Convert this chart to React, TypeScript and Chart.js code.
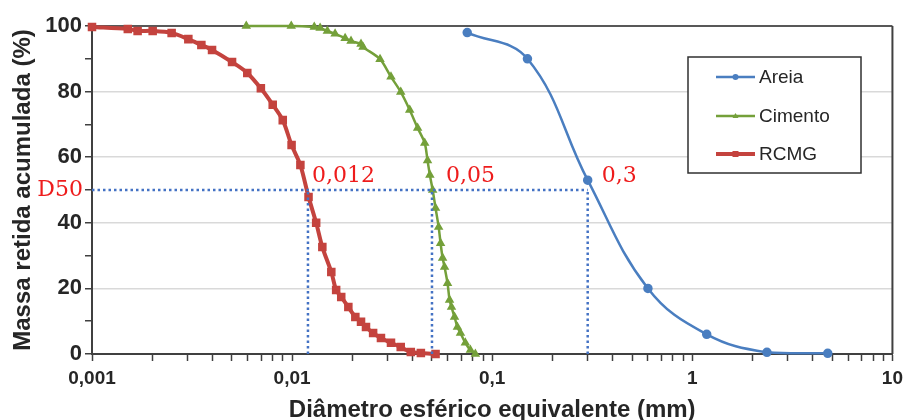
import React, { useEffect, useRef } from "react";
import { Chart, registerables } from "chart.js";

Chart.register(...registerables);

// ---- data ----
const seriesNames = ["Areia", "Cimento", "RCMG"];

const areiaD = [0.075, 0.15, 0.3, 0.6, 1.18, 2.36, 4.75];
const areiaPct = [98, 90, 53, 20, 6, 0.5, 0.2];

const cimentoD = [
  0.0059, 0.0099, 0.0129, 0.0138, 0.015, 0.0164, 0.0184, 0.0197, 0.0221, 0.0226,
  0.0275, 0.0312, 0.0349, 0.0387, 0.0424, 0.046, 0.0475, 0.0488, 0.0504, 0.0521,
  0.054, 0.0552, 0.0565, 0.0578, 0.0598, 0.0612, 0.0626, 0.0648, 0.067, 0.0694,
  0.0734, 0.0778, 0.0824,
];
const cimentoPct = [
  100, 100, 99.7, 99.4, 98.5, 97.6, 96.3, 95.4, 94.5, 93.6,
  89.9, 84.5, 79.9, 74.4, 68.9, 64.3, 59, 54.6, 50, 44.5,
  38.7, 33.8, 29.3, 26.5, 21.6, 16.5, 14.3, 11.3, 8.2, 6.4,
  3.4, 1.2, 0,
];

const rcmgD = [
  0.001, 0.00151, 0.00169, 0.00201, 0.0025, 0.00303, 0.00352, 0.00398, 0.00501, 0.00597,
  0.00698, 0.008, 0.00898, 0.00994, 0.011, 0.01208, 0.01319, 0.01416, 0.0157, 0.0166,
  0.0176, 0.0191, 0.0207, 0.0221, 0.0234, 0.0254, 0.0278, 0.0312, 0.0349, 0.0392,
  0.044, 0.0521,
];
const rcmgPct = [
  99.7, 99.1, 98.5, 98.5, 97.9, 96, 94.2, 92.7, 89, 85.7,
  81, 76, 71.3, 63.7, 57.6, 47.9, 40, 32.6, 25, 19.5,
  17.4, 14.3, 11.3, 9.8, 8.2, 6.4, 4.9, 3.4, 2.1, 0.6,
  0.3, 0,
];

const d50Level = 50;
const d50Values = [0.012, 0.05, 0.3];
const d50Labels = ["0,012", "0,05", "0,3"];
const d50Name = "D50";

const xDecades = [0.001, 0.01, 0.1, 1, 10];
const yLabelledTicks = [0, 20, 40, 60, 80, 100];

// ---- styles ----
const BLUE = "#4a7ec0";
const GREEN = "#74a03a";
const RED = "#c4433e";
const DOT_BLUE = "#4472c4";
const AXIS = "#404040";
const TEXT = "#262626";
const SANS = "'Liberation Sans', Arial, sans-serif";
const SERIF = "'DejaVu Serif', 'Liberation Serif', serif";
const labelOffsets = [4, 14, 14];

const zip = (xs: number[], ys: number[]) => xs.map((x, i) => ({ x, y: ys[i] }));

export default function App() {
  const ref = useRef<HTMLCanvasElement | null>(null);

  useEffect(() => {
    const canvas = ref.current;
    if (!canvas) return;

    const guideSets = [
      {
        label: "_d50h",
        data: [
          { x: xDecades[0], y: d50Level },
          { x: Math.max(...d50Values), y: d50Level },
        ],
      },
      ...d50Values.map((v) => ({
        label: "_d50v",
        data: [
          { x: v, y: 0 },
          { x: v, y: d50Level },
        ],
      })),
    ].map((d) => ({
      ...d,
      borderColor: DOT_BLUE,
      borderWidth: 2.5,
      borderDash: [2.5, 3],
      pointRadius: 0,
      tension: 0,
      fill: false,
    }));

    const series = [
      {
        label: seriesNames[0],
        data: zip(areiaD, areiaPct),
        borderColor: BLUE,
        backgroundColor: BLUE,
        borderWidth: 2.5,
        pointStyle: "circle",
        pointRadius: 3.5,
        tension: 0.4,
      },
      {
        label: seriesNames[1],
        data: zip(cimentoD, cimentoPct),
        borderColor: GREEN,
        backgroundColor: GREEN,
        borderWidth: 2.5,
        pointStyle: "triangle",
        pointRadius: 3,
        tension: 0.3,
      },
      {
        label: seriesNames[2],
        data: zip(rcmgD, rcmgPct),
        borderColor: RED,
        backgroundColor: RED,
        borderWidth: 4,
        pointStyle: "rect",
        pointRadius: 3.2,
        tension: 0.3,
      },
    ].map((d) => ({ ...d, fill: false, clip: false as const }));

    const frame = {
      id: "frame",
      beforeDatasetsDraw(chart: any) {
        const { ctx, chartArea: a } = chart;
        ctx.save();
        ctx.strokeStyle = "#202020";
        ctx.lineWidth = 1.5;
        ctx.beginPath();
        ctx.moveTo(a.left, a.top);
        ctx.lineTo(a.right, a.top);
        ctx.stroke();
        ctx.strokeStyle = AXIS;
        ctx.lineWidth = 2;
        ctx.beginPath();
        ctx.moveTo(a.right, a.top);
        ctx.lineTo(a.right, a.bottom);
        ctx.stroke();
        ctx.restore();
      },
      afterDraw(chart: any) {
        const { ctx } = chart;
        const xs = chart.scales.x;
        const ys = chart.scales.y;
        const py = ys.getPixelForValue(d50Level);
        ctx.save();
        // D50 labels
        ctx.fillStyle = "#ee1c1c";
        ctx.font = `22px ${SERIF}`;
        ctx.textBaseline = "alphabetic";
        ctx.textAlign = "left";
        d50Values.forEach((v, i) => {
          const px = xs.getPixelForValue(v);
          ctx.fillText(d50Labels[i], px + labelOffsets[i], py - 8);
        });
        ctx.textAlign = "right";
        ctx.textBaseline = "middle";
        ctx.fillText(d50Name, chart.chartArea.left - 9, py);

        // legend
        const bx = 688, by = 57, bw = 173, bh = 116;
        ctx.fillStyle = "#ffffff";
        ctx.fillRect(bx, by, bw, bh);
        ctx.strokeStyle = "#303030";
        ctx.lineWidth = 1.5;
        ctx.strokeRect(bx, by, bw, bh);
        const rows = [77, 116, 154];
        series.forEach((s, i) => {
          const y = rows[i];
          ctx.strokeStyle = s.borderColor;
          ctx.lineWidth = s.borderWidth;
          ctx.beginPath();
          ctx.moveTo(716, y);
          ctx.lineTo(755, y);
          ctx.stroke();
          ctx.fillStyle = s.backgroundColor;
          ctx.beginPath();
          if (s.pointStyle === "circle") {
            ctx.arc(735.5, y, 3, 0, Math.PI * 2);
          } else if (s.pointStyle === "triangle") {
            ctx.moveTo(735.5, y - 3);
            ctx.lineTo(738.5, y + 2);
            ctx.lineTo(732.5, y + 2);
            ctx.closePath();
          } else {
            ctx.rect(732.5, y - 3, 6, 6);
          }
          ctx.fill();
          ctx.fillStyle = "#262626";
          ctx.font = `19px ${SANS}`;
          ctx.textAlign = "left";
          ctx.textBaseline = "middle";
          ctx.fillText(s.label, 759, y + 1);
        });
        ctx.restore();
      },
    };

    const chart = new Chart(canvas, {
      type: "line",
      data: { datasets: [...guideSets, ...series] as any },
      options: {
        responsive: false,
        animation: false,
        events: [],
        layout: { padding: { left: 0, right: 11, top: 26, bottom: 0 } },
        plugins: { legend: { display: false }, tooltip: { enabled: false } },
        scales: {
          x: {
            type: "logarithmic",
            min: xDecades[0],
            max: xDecades[xDecades.length - 1],
            afterBuildTicks(scale: any) {
              const t: { value: number }[] = [];
              for (let k = 0; k < xDecades.length - 1; k++) {
                for (let m = 1; m <= 9; m++) t.push({ value: +(xDecades[k] * m).toPrecision(3) });
              }
              t.push({ value: xDecades[xDecades.length - 1] });
              scale.ticks = t;
            },
            afterFit(scale: any) {
              scale.height = 66;
            },
            ticks: {
              autoSkip: false,
              maxRotation: 0,
              padding: 6,
              color: TEXT,
              font: { family: SANS, size: 19, weight: "bold" },
              callback(value: any) {
                const v = Number(value);
                return xDecades.some((d) => Math.abs(d - v) / d < 1e-6)
                  ? String(v).replace(".", ",")
                  : "";
              },
            },
            grid: {
              color: "rgba(0,0,0,0)",
              tickColor: AXIS,
              tickLength: 7,
              tickWidth: 1.5,
            },
            border: { color: AXIS, width: 2 },
            title: {
              display: true,
              text: "Diâmetro esférico equivalente (mm)",
              color: TEXT,
              font: { family: SANS, size: 24, weight: "bold" },
              padding: { top: 0, bottom: -5 },
            },
          },
          y: {
            type: "linear",
            min: 0,
            max: 100,
            afterFit(scale: any) {
              scale.width = 92;
            },
            ticks: {
              stepSize: 10,
              padding: 3,
              color: TEXT,
              font: { family: SANS, size: 22, weight: "bold" },
              callback(value: any) {
                return yLabelledTicks.includes(Number(value)) ? String(value) : "";
              },
            },
            grid: {
              color: (c: any) => {
                const v = c.tick ? c.tick.value : -1;
                return yLabelledTicks.includes(v) && v !== 0 && v !== 100 ? "#d9d9d9" : "rgba(0,0,0,0)";
              },
              lineWidth: 1.5,
              tickColor: AXIS,
              tickLength: 7,
              tickWidth: 1.5,
            },
            border: { color: AXIS, width: 2 },
            title: {
              display: true,
              text: "Massa retida acumulada (%)",
              color: TEXT,
              font: { family: SANS, size: 24, weight: "bold" },
              padding: { top: 9, bottom: 0 },
            },
          },
        },
      } as any,
      plugins: [frame],
    });

    return () => chart.destroy();
  }, []);

  return (
    <div style={{ position: "absolute", left: 0, top: 0, width: 909, height: 420, background: "#fff" }}>
      <canvas ref={ref} width={909} height={420} style={{ display: "block" }} />
    </div>
  );
}
